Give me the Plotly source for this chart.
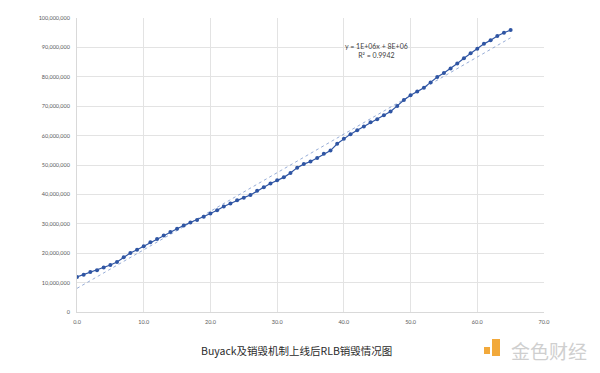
import numpy as np
import plotly.graph_objects as go

# Data
x_vals = list(range(0, 66))
burned = [11.9, 12.7, 13.6, 14.2, 15.1, 16.0, 17.0, 18.6, 20.1, 21.2,
          22.4, 23.7, 24.8, 26.0, 27.2, 28.3, 29.4, 30.4, 31.3, 32.4,
          33.5, 34.6, 35.9, 36.9, 38.0, 38.9, 39.8, 41.2, 42.4, 43.7,
          44.8, 45.8, 47.3, 49.1, 50.3, 51.2, 52.4, 53.8, 54.9, 57.2,
          58.9, 60.5, 61.8, 63.1, 64.5, 65.6, 66.9, 68.2, 70.1, 72.1,
          73.7, 75.0, 76.3, 78.1, 79.9, 81.3, 82.8, 84.5, 86.3, 88.0,
          89.5, 91.2, 92.4, 93.9, 95.0, 95.9]
burned = [v * 1e6 for v in burned]

y_tick_vals = [i * 10_000_000 for i in range(11)]
y_tick_text = ["0"] + [f"{v:,}" for v in y_tick_vals[1:]]
x_tick_vals = [0, 10, 20, 30, 40, 50, 60, 70]
x_tick_text = [f"{v:.1f}" for v in x_tick_vals]

title_text = "Buyack及销毁机制上线后RLB销毁情况图"
eq_text = "y = 1E+06x + 8E+06<br>R² = 0.9942"
watermark_text = "金色财经"

# Linear trendline fitted to the data
coef = np.polyfit(x_vals, burned, 1)
trend_x = [x_vals[0], x_vals[-1]]
trend_y = [coef[0] * t + coef[1] for t in trend_x]

# The page body has an 8px default margin, so the figure is offset by 8px.
OFF = 8
W, H = 600 - OFF, 373 - 2 * OFF
L, T = 77 - OFF, 18 - OFF
R = W - (544 - OFF)
B = H - (312 - OFF)
PW, PH = W - L - R, H - T - B


def px(xp):
    return (xp - OFF - L) / PW


def py(yp):
    return (H - B - (yp - OFF)) / PH


fig = go.Figure()
fig.add_trace(go.Scatter(
    x=trend_x, y=trend_y, mode="lines",
    line=dict(color="#7B97CC", width=0.8, dash="dot"),
    hoverinfo="skip", showlegend=False,
))
fig.add_trace(go.Scatter(
    x=x_vals, y=burned, mode="lines+markers",
    line=dict(color="#2F55A3", width=1.2),
    marker=dict(color="#2F55A3", size=4),
    hoverinfo="skip", showlegend=False,
))

axis_font = dict(family="Lato, Open Sans, sans-serif", size=5.5, color="#595959")

fig.update_layout(
    width=W, height=H,
    margin=dict(l=L, r=R, t=T, b=B, autoexpand=False),
    paper_bgcolor="white", plot_bgcolor="white",
    xaxis=dict(
        range=[0, 70], tickvals=x_tick_vals, ticktext=x_tick_text,
        showgrid=True, gridcolor="#E3E3E3", gridwidth=1,
        zeroline=False, showline=True, linecolor="#D9D9D9", linewidth=1,
        tickfont=axis_font, ticks="", ticklabelstandoff=4, automargin=False,
    ),
    yaxis=dict(
        range=[0, 100_000_000], tickvals=y_tick_vals, ticktext=y_tick_text,
        showgrid=True, gridcolor="#E3E3E3", gridwidth=1,
        zeroline=False, showline=True, linecolor="#D9D9D9", linewidth=1,
        tickfont=axis_font, ticks="", ticklabelstandoff=5, automargin=False,
    ),
    annotations=[
        dict(text=eq_text, x=px(376), y=py(50), xref="paper", yref="paper",
             showarrow=False, font=dict(family="Lato, Open Sans, sans-serif", size=7, color="#404040"),
             align="center", xanchor="center", yanchor="middle"),
        dict(text=title_text, x=px(296), y=py(350), xref="paper", yref="paper",
             showarrow=False, font=dict(family="Noto Sans CJK SC", size=10.5, color="#2B2B2B"),
             xanchor="center", yanchor="middle"),
        dict(text=watermark_text, x=px(589), y=py(350), xref="paper", yref="paper",
             showarrow=False, font=dict(family="Noto Sans CJK SC", size=19, color="#CFCFCF"),
             xanchor="right", yanchor="middle"),
    ],
    shapes=[
        dict(type="rect", xref="paper", yref="paper",
             x0=px(484), x1=px(490), y0=py(354), y1=py(347),
             fillcolor="#F2A93B", line=dict(width=0)),
        dict(type="rect", xref="paper", yref="paper",
             x0=px(492), x1=px(500), y0=py(356), y1=py(339),
             fillcolor="#F2A93B", line=dict(width=0)),
    ],
)

fig.write_html("out.html")
